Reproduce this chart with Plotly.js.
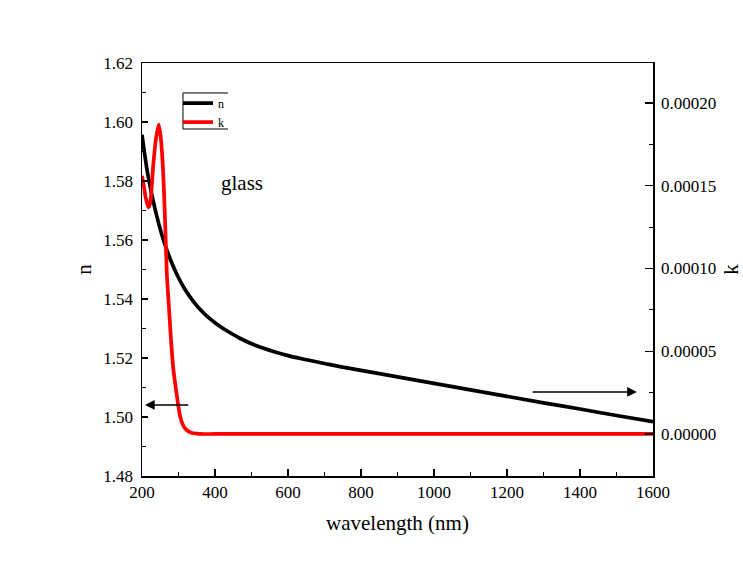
<!DOCTYPE html>
<html>
<head>
<meta charset="utf-8">
<script src="https://cdn.plot.ly/plotly-3.0.1.min.js"></script>
<style>html,body{margin:0;padding:0;background:#fff;}</style>
</head>
<body>
<div id="chart" style="width:743px;height:565px;"></div>
<script>
// Refractive index n vs wavelength (nm)
const nWavelength = [200, 216, 235, 257, 280, 300, 317, 340, 362, 385, 408, 438, 468, 510, 560, 600, 651, 700, 742, 800, 900, 1000, 1100, 1200, 1300, 1400, 1500, 1600];
const nValues     = [1.5957, 1.5822, 1.5709, 1.5607, 1.5527, 1.5472, 1.5434, 1.5393, 1.5361, 1.5334, 1.5312, 1.5288, 1.5267, 1.5243, 1.5222, 1.5208, 1.5194, 1.51815, 1.5171, 1.5158, 1.5136, 1.5114, 1.5092, 1.5070, 1.5048, 1.5027, 1.5005, 1.4984];

// Extinction coefficient k vs wavelength (nm)
const kWavelength = [200, 205, 210, 217, 222, 231, 238, 246, 252, 258, 263, 268, 274, 280, 286, 295, 304, 313, 322, 335, 350, 360, 400, 600, 800, 1000, 1200, 1400, 1600];
const kValues     = [0.000156, 0.000150, 0.000143, 0.000137, 0.000139, 0.000163, 0.000178, 0.000187, 0.000178, 0.000158, 0.000130, 0.000097, 0.000076, 0.000055, 0.000039, 0.000024, 0.000011, 0.000005, 0.0000024, 0.0000008, 0.0000002, 0, 0, 0, 0, 0, 0, 0, 0];

const xTickVals = [200, 400, 600, 800, 1000, 1200, 1400, 1600];
const nTickVals = [1.48, 1.50, 1.52, 1.54, 1.56, 1.58, 1.60, 1.62];
const kTickVals = [0, 0.00005, 0.00010, 0.00015, 0.00020];

const FONT = "Liberation Serif, serif";

const traces = [
  {
    x: nWavelength, y: nValues, name: 'n', type: 'scatter', mode: 'lines',
    line: {color: '#000000', width: 3.7, shape: 'spline', smoothing: 1},
    yaxis: 'y'
  },
  {
    x: kWavelength, y: kValues, name: 'k', type: 'scatter', mode: 'lines',
    line: {color: '#ff0000', width: 3.7, shape: 'spline', smoothing: 0.6},
    yaxis: 'y2'
  }
];

const layout = {
  width: 743, height: 565,
  margin: {l: 142, r: 90, t: 63, b: 89},
  paper_bgcolor: '#ffffff', plot_bgcolor: '#ffffff',
  font: {family: FONT, color: '#000000', size: 17},
  showlegend: true,
  legend: {
    x: (178 - 142) / 511, y: 0.9378, xanchor: 'left', yanchor: 'top',
    bgcolor: 'rgba(255,255,255,0)', borderwidth: 0,
    font: {family: FONT, size: 12, color: '#000000'},
    itemwidth: 30, tracegroupgap: 0
  },
  shapes: [
    {type: 'path', xref: 'paper', yref: 'paper',
     path: 'M 0.1683 0.9274 L 0.0802 0.9274 L 0.0802 0.8402 L 0.1683 0.8402',
     line: {color: '#000', width: 1}}
  ],
  xaxis: {
    range: [200, 1600], tickvals: xTickVals,
    ticks: 'inside', ticklen: 7, tickwidth: 1.2, tickcolor: '#000',
    minor: {dtick: 100, ticks: 'inside', ticklen: 4, tickwidth: 1.2, tickcolor: '#000'},
    showline: true, linecolor: '#000', linewidth: 1.5, mirror: true,
    showgrid: false, zeroline: false,
    tickfont: {family: FONT, size: 17},
    title: {text: 'wavelength (nm)', font: {family: FONT, size: 21}, standoff: 14}
  },
  yaxis: {
    range: [1.48, 1.62], tickvals: nTickVals, tickformat: '.2f',
    ticks: 'inside', ticklen: 6, tickwidth: 1.2, tickcolor: '#000',
    minor: {dtick: 0.01, ticks: 'inside', ticklen: 4, tickwidth: 1.2, tickcolor: '#000'},
    showline: true, linecolor: '#000', linewidth: 1.5, mirror: true,
    showgrid: false, zeroline: false, ticklabelstandoff: 4,
    tickfont: {family: FONT, size: 17},
    title: {text: 'n', font: {family: FONT, size: 21}, standoff: 6}
  },
  yaxis2: {
    overlaying: 'y', side: 'right',
    range: [-0.0000254, 0.0002242], tickvals: kTickVals, tickformat: '.5f',
    ticks: 'inside', ticklen: 8, tickwidth: 1.2, tickcolor: '#000',
    minor: {tick0: 0, dtick: 0.000025, ticks: 'inside', ticklen: 4, tickwidth: 1.2, tickcolor: '#000'},
    showline: true, linecolor: '#000', linewidth: 1.5,
    showgrid: false, zeroline: false, ticklabelstandoff: 3,
    tickfont: {family: FONT, size: 17},
    title: {text: 'k', font: {family: FONT, size: 21}, standoff: 12}
  },
  annotations: [
    {x: 474, y: 1.5794, xref: 'x', yref: 'y', text: 'glass', showarrow: false,
     font: {family: FONT, size: 21, color: '#000'}},
    {x: 208, y: 1.5041, ax: 331, ay: 1.5041, xref: 'x', yref: 'y', axref: 'x', ayref: 'y',
     text: '', showarrow: true, arrowhead: 2, arrowsize: 1.3, arrowwidth: 1.5, arrowcolor: '#000', standoff: 0},
    {x: 1556, y: 1.5085, ax: 1266, ay: 1.5085, xref: 'x', yref: 'y', axref: 'x', ayref: 'y',
     text: '', showarrow: true, arrowhead: 2, arrowsize: 1.3, arrowwidth: 1.5, arrowcolor: '#000', standoff: 0}
  ]
};

Plotly.newPlot('chart', traces, layout, {displayModeBar: false, staticPlot: true});
</script>
</body>
</html>
